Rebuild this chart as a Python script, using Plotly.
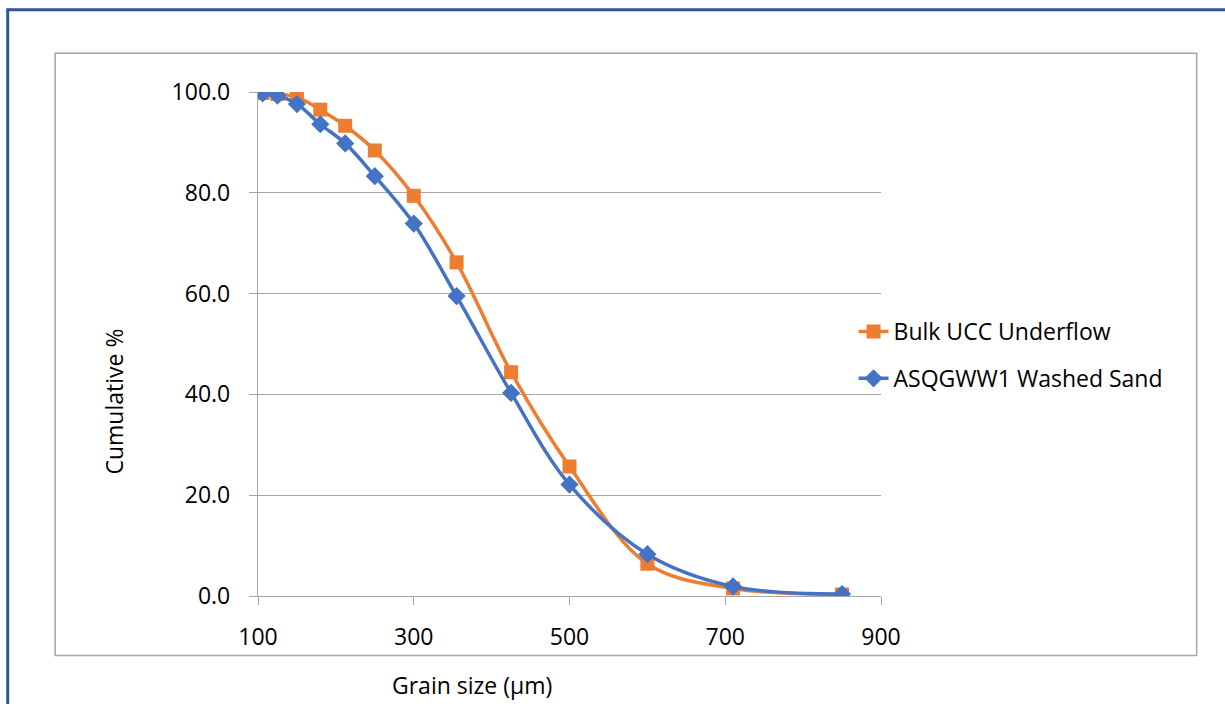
import plotly.graph_objects as go

grain_size = [106, 125, 150, 180, 212, 250, 300, 355, 425, 500, 600, 710, 850]
bulk_ucc = [99.8, 99.6, 99.0, 96.5, 93.3, 88.4, 79.4, 66.2, 44.4, 25.7, 6.4, 1.5, 0.3]
asqgww1 = [99.7, 99.3, 97.6, 93.6, 89.8, 83.3, 73.9, 59.5, 40.3, 22.1, 8.3, 1.9, 0.4]

x_ticks = [100, 300, 500, 700, 900]
y_ticks = [0, 20, 40, 60, 80, 100]

ORANGE = "#ED7D31"
BLUE = "#4472C4"
GRID = "#a6a6a6"
FONT = "Open Sans"

W, H = 1225, 704
L, R, T, B = 257.5, 881.5, 91.7, 596.5


def px(x):
    return (x - L) / (R - L)


def py(y):
    return (B - y) / (B - T)


fig = go.Figure()
fig.add_trace(go.Scatter(
    x=grain_size, y=bulk_ucc, name="Bulk UCC Underflow", mode="lines+markers",
    line=dict(color=ORANGE, width=3.5, shape="spline", smoothing=1),
    marker=dict(symbol="square", size=14, color=ORANGE),
    legendgroup="a",
))
fig.add_trace(go.Scatter(
    x=grain_size, y=asqgww1, name="ASQGWW1 Washed Sand", mode="lines+markers",
    line=dict(color=BLUE, width=3.5, shape="spline", smoothing=1),
    marker=dict(symbol="diamond", size=14, color=BLUE),
    legendgroup="b",
))

fig.update_layout(
    width=W, height=H,
    margin=dict(l=L, r=W - R, t=T, b=H - B, autoexpand=False),
    paper_bgcolor="white", plot_bgcolor="white",
    font=dict(family=FONT, size=23, color="#000000"),
    showlegend=True,
    legend=dict(x=px(854), y=py(310), xanchor="left", yanchor="top",
                traceorder="grouped", tracegroupgap=14,
                font=dict(family=FONT, size=23, color="#000000"),
                bgcolor="rgba(0,0,0,0)"),
    xaxis=dict(range=[100, 900], tickvals=x_ticks, ticktext=[str(v) for v in x_ticks],
               showgrid=False, zeroline=False, showline=True, linecolor=GRID, linewidth=1.3,
               ticks="outside", ticklen=8, tickcolor=GRID, tickwidth=1.3,
               ticklabelstandoff=12),
    yaxis=dict(range=[0, 100], tickvals=y_ticks, ticktext=[f"{v:.1f}" for v in y_ticks],
               showgrid=True, gridcolor=GRID, gridwidth=1.3, zeroline=False,
               showline=True, linecolor=GRID, linewidth=1.3,
               ticks="outside", ticklen=8, tickcolor=GRID, tickwidth=1.3,
               ticklabelstandoff=14),
    shapes=[
        dict(type="rect", xref="paper", yref="paper",
             x0=px(54.3), x1=px(1197.7), y0=py(656), y1=py(53),
             line=dict(color=GRID, width=1.5), layer="below"),
        dict(type="rect", xref="paper", yref="paper",
             x0=px(6.8), x1=px(1240), y0=py(720), y1=py(9.3),
             line=dict(color="#2F5597", width=3), layer="below"),
    ],
    annotations=[
        dict(text="Grain size (µm)", xref="paper", yref="paper", x=px(472), y=py(686),
             xanchor="center", yanchor="middle", showarrow=False,
             font=dict(family=FONT, size=23, color="#000000")),
        dict(text="Cumulative %", xref="paper", yref="paper", x=px(113), y=py(402),
             xanchor="center", yanchor="middle", showarrow=False, textangle=-90,
             font=dict(family=FONT, size=23, color="#000000")),
    ],
)

fig.write_html("out.html", config={"displayModeBar": False},
               post_script="document.body.style.margin='0';document.body.style.overflow='hidden';")
